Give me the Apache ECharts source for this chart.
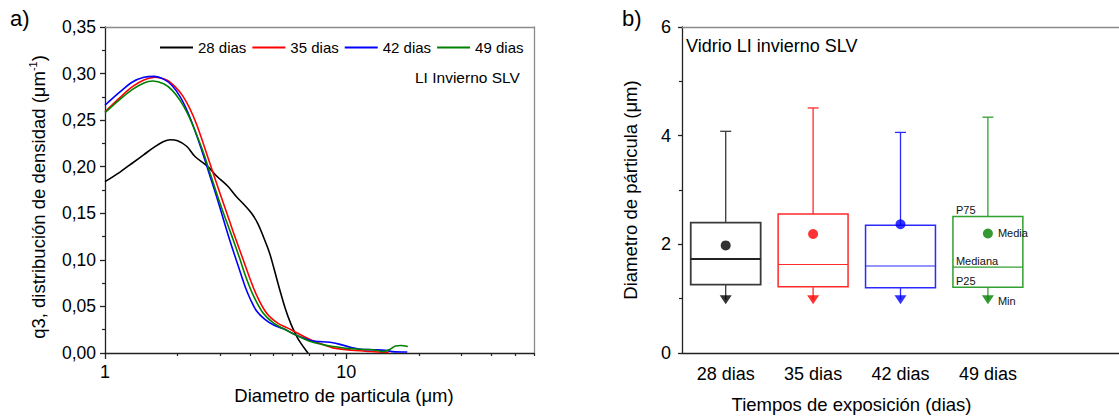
<!DOCTYPE html>
<html><head><meta charset="utf-8">
<script src="https://cdn.jsdelivr.net/npm/echarts@6/dist/echarts.min.js"></script>
<style>html,body{margin:0;padding:0;background:#fff}#c{width:1119px;height:419px}</style>
</head><body><div id="c"></div>
<script>
// ---- Panel a) : density distributions  [diameter (µm), q3]
const seriesNames = ['28 dias', '35 dias', '42 dias', '49 dias'];
const d28 = [[1.0,0.184],[1.15,0.194],[1.3,0.204],[1.45,0.213],[1.6,0.221],[1.75,0.227],[1.86,0.229],[2.0,0.228],[2.18,0.222],[2.36,0.211],[2.67,0.200],[2.9,0.190],[3.23,0.179],[3.5,0.168],[3.75,0.160],[4.05,0.150],[4.3,0.139],[4.53,0.125],[4.8,0.108],[5.0,0.092],[5.3,0.068],[5.6,0.047],[5.9,0.031],[6.2,0.019],[6.5,0.010],[6.8,0.003],[6.95,0.0]];
const d35 = [[1.0,0.259],[1.15,0.274],[1.3,0.286],[1.45,0.293],[1.62,0.296],[1.8,0.293],[1.95,0.286],[2.1,0.276],[2.25,0.262],[2.4,0.245],[2.6,0.219],[2.8,0.194],[3.0,0.171],[3.2,0.150],[3.4,0.130],[3.6,0.112],[3.8,0.095],[4.0,0.079],[4.25,0.062],[4.67,0.043],[5.2,0.032],[5.7,0.027],[6.2,0.022],[7.0,0.015],[8.0,0.009],[8.8,0.0055],[10.5,0.003],[12,0.002],[13.5,0.001],[15,0.0005]];
const d42 = [[1.0,0.266],[1.15,0.280],[1.3,0.291],[1.45,0.296],[1.6,0.297],[1.75,0.294],[1.9,0.287],[2.05,0.275],[2.2,0.259],[2.35,0.240],[2.5,0.220],[2.7,0.193],[2.9,0.168],[3.1,0.143],[3.3,0.120],[3.55,0.095],[3.8,0.072],[4.0,0.058],[4.25,0.045],[4.6,0.036],[5.0,0.030],[5.5,0.026],[6.0,0.021],[6.5,0.017],[7.2,0.013],[8.0,0.012],[8.8,0.011],[9.5,0.009],[10.5,0.006],[11.5,0.004],[13,0.0035],[14.5,0.003],[15.5,0.0015],[17.9,0.001]];
const d49 = [[1.0,0.258],[1.15,0.272],[1.3,0.283],[1.45,0.290],[1.58,0.292],[1.75,0.289],[1.9,0.282],[2.05,0.271],[2.2,0.257],[2.35,0.240],[2.55,0.216],[2.75,0.190],[2.95,0.166],[3.15,0.145],[3.35,0.126],[3.6,0.103],[3.87,0.079],[4.15,0.060],[4.52,0.043],[5.0,0.032],[5.5,0.026],[6.0,0.021],[7.0,0.013],[8.0,0.009],[8.8,0.007],[10,0.005],[11.5,0.004],[13.3,0.003],[14.2,0.0015],[15.2,0.004],[16.0,0.0075],[16.8,0.008],[18,0.007]];
const xMajorTicks = [1, 10];
const xMinorTicks = [2, 3, 4, 5, 6, 7, 8, 9, 20, 30, 40, 50, 60];

// ---- Panel b) : box summary of particle diameter (µm)
const boxCategories = ['28 dias', '35 dias', '42 dias', '49 dias'];
const p25 = [1.26, 1.22, 1.20, 1.21];
const median = [1.73, 1.63, 1.60, 1.58];
const p75 = [2.40, 2.56, 2.35, 2.51];
const maxV = [4.08, 4.51, 4.06, 4.34];
const minV = [0.98, 0.98, 0.98, 0.98];
const meanV = [1.98, 2.19, 2.37, 2.20];
const boxNotes = ['P75', 'Mediana', 'P25', 'Media', 'Min'];

// styles
const lineColors = ['#000000', '#ff0000', '#0000ff', '#008000'];
const boxStroke = ['#3a3a3a', '#ff2a2a', '#2a2aff', '#30a030'];
const markerColor = ['#000000', '#ff0000', '#0000ff', '#008000'];
const FONT = '"Liberation Sans", Arial, sans-serif';
const dark = '#222';
const grey = '#8a8a8a';

const chart = echarts.init(document.getElementById('c'), null, {renderer: 'svg'});
const comma = v => v.toFixed(2).replace('.', ',');
const noAxisParts = {axisTick: {show: false}, axisLabel: {show: false}, splitLine: {show: false}};

const option = {
  animation: false,
  textStyle: {fontFamily: FONT, color: '#000'},
  grid: [
    {left: 105, top: 27, width: 429, height: 326},
    {left: 682, top: 27, width: 526, height: 326}
  ],
  legend: {
    data: seriesNames, left: 155, top: 35, icon: 'rect', itemWidth: 33, itemHeight: 2, itemGap: 6,
    textStyle: {fontSize: 15, fontFamily: FONT, color: '#000'}
  },
  graphic: [
    {type: 'text', left: 10, top: 7, style: {text: 'a)', fontSize: 22, fontFamily: FONT, fill: '#000'}},
    {type: 'text', left: 622, top: 7, style: {text: 'b)', fontSize: 22, fontFamily: FONT, fill: '#000'}},
    {type: 'text', left: 415, top: 69, style: {text: 'LI Invierno SLV', fontSize: 15.5, fontFamily: FONT, fill: '#000'}},
    {type: 'text', left: 686, top: 37, style: {text: 'Vidrio LI invierno SLV', fontSize: 18, fontFamily: FONT, fill: '#000'}}
  ],
  xAxis: [
    {gridIndex: 0, type: 'log', logBase: 10, min: 1, max: 60, position: 'bottom',
     axisLine: {onZero: false, lineStyle: {color: dark, width: 1.3}},
     axisTick: {customValues: xMajorTicks, length: 6, lineStyle: {color: dark, width: 1.3}},
     axisLabel: {customValues: xMajorTicks, fontSize: 18, margin: 10, color: '#000'},
     splitLine: {show: false}, minorTick: {show: false},
     name: 'Diametro de particula (μm)', nameLocation: 'middle', nameGap: 33,
     nameTextStyle: {fontSize: 18.5, color: '#000', padding: [0, 0, 0, 49]}},
    {gridIndex: 0, type: 'log', logBase: 10, min: 1, max: 60, position: 'bottom',
     axisLine: {show: false, onZero: false},
     axisTick: {customValues: xMinorTicks, length: 3, lineStyle: {color: dark, width: 1.2}},
     axisLabel: {show: false}, splitLine: {show: false}},
    Object.assign({gridIndex: 0, type: 'log', logBase: 10, min: 1, max: 60, position: 'top',
     axisLine: {onZero: false, lineStyle: {color: grey, width: 1.3}}}, noAxisParts),
    {gridIndex: 1, type: 'category', data: boxCategories.concat(['']), position: 'bottom',
     axisLine: {onZero: false, lineStyle: {color: dark, width: 1.3}},
     axisTick: {alignWithLabel: true, interval: 0, length: 5, lineStyle: {color: dark, width: 1.3}},
     axisLabel: {interval: 0, fontSize: 18, margin: 12, color: '#000'},
     name: 'Tiempos de exposición (dias)', nameLocation: 'middle', nameGap: 42,
     nameTextStyle: {fontSize: 18.5, color: '#000', padding: [0, 98, 0, 0]}},
    Object.assign({gridIndex: 1, type: 'category', data: boxCategories.concat(['']), position: 'top',
     axisLine: {onZero: false, lineStyle: {color: grey, width: 1.3}}}, noAxisParts)
  ],
  yAxis: [
    {gridIndex: 0, type: 'value', min: 0, max: 0.35, interval: 0.05, position: 'left',
     axisLine: {show: true, onZero: false, lineStyle: {color: dark, width: 1.3}},
     axisTick: {show: true, length: 5, lineStyle: {color: dark, width: 1.3}},
     minorTick: {show: true, splitNumber: 2, length: 3, lineStyle: {color: dark, width: 1.2}},
     axisLabel: {formatter: comma, fontSize: 17.5, margin: 9, color: '#000'},
     splitLine: {show: false},
     name: '{a|q3, distribución de densidad (μm}{s|-1}{a|)}', nameLocation: 'middle', nameGap: 56, nameRotate: 90,
     nameTextStyle: {padding: [0, 14, 0, 0], rich: {
       a: {fontSize: 18.5, fontFamily: FONT, color: '#000', lineHeight: 22},
       s: {fontSize: 11, fontFamily: FONT, color: '#000', verticalAlign: 'top', lineHeight: 22}}}},
    Object.assign({gridIndex: 0, type: 'value', min: 0, max: 0.35, position: 'right',
     axisLine: {show: true, onZero: false, lineStyle: {color: grey, width: 1.3}}}, noAxisParts),
    {gridIndex: 1, type: 'value', min: 0, max: 6, interval: 2, position: 'left',
     axisLine: {show: true, onZero: false, lineStyle: {color: dark, width: 1.3}},
     axisTick: {show: true, length: 4, lineStyle: {color: dark, width: 1.3}},
     minorTick: {show: true, splitNumber: 2, length: 3, lineStyle: {color: dark, width: 1.2}},
     axisLabel: {fontSize: 18, margin: 11, color: '#000'},
     splitLine: {show: false},
     name: 'Diametro de párticula (μm)', nameLocation: 'middle', nameGap: 42, nameRotate: 90,
     nameTextStyle: {fontSize: 18.5, color: '#000'}}
  ],
  series: [
    ...[d28, d35, d42, d49].map((d, i) => ({
      name: seriesNames[i], type: 'line', xAxisIndex: 0, yAxisIndex: 0, data: d,
      symbol: 'none', showSymbol: false, smooth: 0.35,
      lineStyle: {color: lineColors[i], width: 1.6}, itemStyle: {color: lineColors[i]}
    })),
    {
      name: 'box', type: 'custom', xAxisIndex: 3, yAxisIndex: 2,
      data: boxCategories.map((c, i) => [i, p25[i], median[i], p75[i], maxV[i], minV[i], meanV[i]]),
      renderItem: function (params, api) {
        const i = params.dataIndex;
        const x = api.value(0);
        const half = api.size([1, 0])[0] * 0.4;
        const q1 = api.coord([x, api.value(1)]);
        const md = api.coord([x, api.value(2)]);
        const q3 = api.coord([x, api.value(3)]);
        const mx = api.coord([x, api.value(4)]);
        const mn = api.coord([x, api.value(5)]);
        const mean = api.coord([x, api.value(6)]);
        const cx = q1[0];
        const col = boxStroke[i];
        const lw = i === 0 ? 1.8 : 1.5;
        const ch = [
          {type: 'line', shape: {x1: cx, y1: q3[1], x2: cx, y2: mx[1]}, style: {stroke: col, lineWidth: 1.3}},
          {type: 'line', shape: {x1: cx - 5.5, y1: mx[1], x2: cx + 5.5, y2: mx[1]}, style: {stroke: col, lineWidth: 1.3}},
          {type: 'line', shape: {x1: cx, y1: q1[1], x2: cx, y2: mn[1]}, style: {stroke: col, lineWidth: 1.3}},
          {type: 'rect', shape: {x: cx - half, y: q3[1], width: 2 * half, height: q1[1] - q3[1]},
           style: {stroke: col, fill: 'none', lineWidth: lw}},
          {type: 'line', shape: {x1: cx - half, y1: md[1], x2: cx + half, y2: md[1]},
           style: {stroke: i === 0 ? '#222' : col, lineWidth: i === 0 ? 2 : 1.1}}
        ];
        if (i === boxCategories.length - 1) {
          const ts = (t, tx, ty, va) => ({type: 'text', style: {text: t, x: tx, y: ty, fill: '#111',
            fontSize: 11, fontFamily: FONT, align: 'left', verticalAlign: va}});
          ch.push(ts(boxNotes[0], cx - half + 3, q3[1] - 1, 'bottom'));
          ch.push(ts(boxNotes[1], cx - half + 3, md[1] - 0.5, 'bottom'));
          ch.push(ts(boxNotes[2], cx - half + 3, q1[1] - 0.5, 'bottom'));
          ch.push(ts(boxNotes[3], cx + 10, mean[1], 'middle'));
          ch.push(ts(boxNotes[4], cx + 10, mn[1] + 1, 'middle'));
        }
        return {type: 'group', children: ch};
      },
      z: 2
    },
    {
      name: 'media', type: 'scatter', xAxisIndex: 3, yAxisIndex: 2, symbol: 'circle', symbolSize: 10,
      data: meanV.map((v, i) => ({value: [i, v], itemStyle: {color: markerColor[i]}})), z: 3
    },
    {
      name: 'min', type: 'scatter', xAxisIndex: 3, yAxisIndex: 2, symbol: 'triangle', symbolRotate: 180,
      symbolSize: [12, 9],
      data: minV.map((v, i) => ({value: [i, v], itemStyle: {color: markerColor[i]}})), z: 3
    }
  ]
};
chart.setOption(option);
</script>
</body></html>
